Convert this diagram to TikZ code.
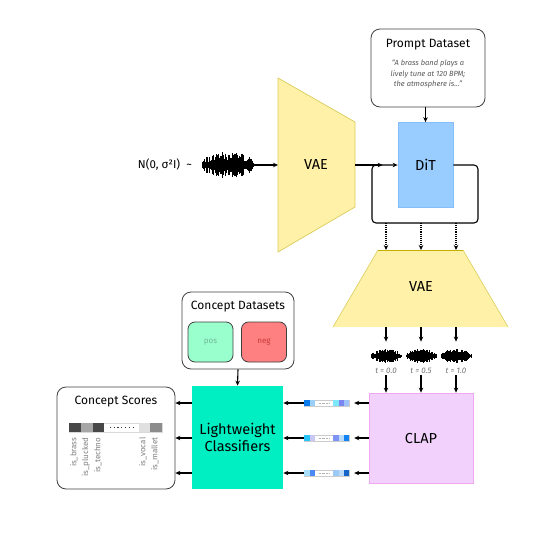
\documentclass[tikz,border=0pt]{standalone}
\usepackage{fontspec}
\setmainfont{Fira Sans}
\usetikzlibrary{positioning,arrows.meta}

\definecolor{vaefill}{HTML}{FFF2A8}
\definecolor{vaeline}{HTML}{D9CC5A}
\definecolor{vaetop}{HTML}{C2B000}
\definecolor{ditfill}{HTML}{99CCFF}
\definecolor{ditline}{HTML}{85BEFA}
\definecolor{clapfill}{HTML}{F2D2FC}
\definecolor{clapline}{HTML}{F0A6F0}
\definecolor{lcfill}{HTML}{00EFC2}
\definecolor{posfill}{HTML}{99FFCC}
\definecolor{negfill}{HTML}{FF8080}
\definecolor{postext}{HTML}{70B896}
\definecolor{negtext}{HTML}{C83838}

% waveform: centre x, centre y, half width, half height
\newcommand{\wavefm}[4]{%
  \foreach \i in {-30,...,30}{%
    \pgfmathsetmacro{\wx}{#1+\i*#3/30}%
    \pgfmathsetmacro{\wh}{#4*(0.35+0.65*rnd)*sqrt(1-(\i/31)*(\i/31))}%
    \draw[line width=0.8pt] (\wx,#2-\wh) -- (\wx,#2+\wh);
  }%
  \draw[line width=1pt] (#1-#3,#2) -- (#1+#3,#2);
}
% embedding cells on a vector node
\newcommand{\vcells}[6]{%
  \foreach \a/\b/\c in {0/6/#2,6/11/#3,29/34.7/#4,34.7/40/#5,40/45/#6}{%
    \definecolor{cellc}{HTML}{\c}%
    \fill[cellc] ([xshift=\a pt]#1.north west) rectangle ([xshift=\b pt]#1.south west);
  }%
  \draw[gray!60,line width=0.4pt,densely dotted] ([xshift=15pt]#1.west) -- ([xshift=25pt]#1.west);
}

\begin{document}
\begin{tikzpicture}
    [x=1pt,y=-1pt,line width=0.8pt,
     arr/.style={line width=1.1pt,-{Stealth[length=5pt,width=4.5pt]}},
     rbox/.style={draw=black!75,rounded corners=9pt,fill=white},
     big/.style={font=\fontsize{14.5}{17.5}\selectfont},
     title/.style={font=\fontsize{12}{14}\selectfont},
     quote/.style={font=\fontsize{7.5}{10.5}\selectfont\itshape,text=black!65,align=center},
     tlab/.style={font=\fontsize{8}{9}\selectfont\itshape,text=black!55,inner sep=1pt},
     isl/.style={font=\fontsize{8}{9}\selectfont,text=black!50,inner sep=0pt},
     wavebox/.style={minimum width=52,minimum height=27,inner sep=0},
     swave/.style={minimum width=30,minimum height=28,inner sep=0},
     vecbox/.style={minimum width=45,minimum height=5.5,inner sep=0,draw=black!20,line width=0.4pt},
     dset/.style={draw=black!75,rounded corners=7pt,minimum width=45,minimum height=40,
                  font=\fontsize{8}{9}\selectfont}]
    \useasboundingbox (0,0) rectangle (541,533);
    \pgfmathsetseed{12}

    % noise and first VAE
    \node[wavebox] (noise) at (228,165) {};
    \wavefm{228}{165}{26}{13}
    \node[font=\fontsize{11.5}{14}\selectfont,left=6pt of noise] (normal) {N(0, σ²I)\ \ \textasciitilde};
    \draw[vaeline,fill=vaefill,line width=0.7pt] (278,78) -- (355,122) -- (355,207) -- (278,252) -- cycle;
    \node[big] (vae1) at (316,165) {VAE};
    \coordinate (vae1in) at (278,165);
    \coordinate (vae1out) at (355,165);
    \draw[arr] (noise) -- (vae1in);

    % prompt and DiT loop
    \node[rbox,minimum width=114,minimum height=78] (prompt) at (428,68) {};
    \node[title] (prompttitle) at (428,45) {Prompt Dataset};
    \node[quote] (prompttext) at (428,74) {“A brass band plays a\\lively tune at 120 BPM;\\the atmosphere is...”};
    \node[big,draw=ditline,fill=ditfill,minimum width=55,minimum height=85] (dit) at (425.5,165) {DiT};
    \draw[arr] (dit.north |- prompt.south) -- (dit.north);
    \coordinate (loopbr) at (478,223);
    \coordinate (loopbl) at (372,223);
    \draw[arr,rounded corners=4pt] (dit.east) -| (loopbr) -- (loopbl) |- (dit.west);
    \draw[arr] (vae1out) -- ([xshift=-15pt]dit.west);

    % second VAE
    \fill[vaefill] (378,250) -- (463,250) -- (508,327) -- (333,327) -- cycle;
    \draw[vaeline,line width=0.6pt] (463,250) -- (508,327);
    \draw[vaeline,line width=0.6pt] (378,250) -- (333,327);
    \draw[vaetop,line width=1pt] (378,250) -- (463,250);
    \node[big] (vae2) at (421,287) {VAE};
    \coordinate (vae2top) at (421,250);
    \coordinate (vae2bot) at (421,327);

    % decoded audio
    \foreach \k/\xx/\tv in {1/386/0.0,2/421/0.5,3/456/1.0}{
        \node[swave] (w\k) at (\xx,356) {};
        \wavefm{\xx}{356}{15}{7}
        \node[tlab] (t\k) at (\xx,371) {t = \tv};
    }
    \node[big,draw=clapline,fill=clapfill,minimum width=104,minimum height=90] (clap) at (421,438) {CLAP};
    \foreach \k in {1,2,3}{
        \draw[arr,densely dotted] (w\k |- loopbl) -- (w\k |- vae2top);
        \draw[arr] (w\k |- vae2bot) -- (w\k.north);
        \draw[arr] (t\k.south) -- (t\k |- clap.north);
    }

    % embeddings
    \foreach \k/\yy in {1/403,2/438,3/473}
        \node[vecbox] (v\k) at (326.5,\yy) {};
    \vcells{v1}{0A7BEA}{9CCFF8}{7FE8F8}{7B86F0}{9EC3FA}
    \vcells{v2}{29C4F8}{C8C8F5}{7E93F5}{B8DBFA}{1184F2}
    \vcells{v3}{A9DEF9}{4B8AF5}{9CCAF7}{BCDBF9}{1566C8}

    % classifiers
    \node[big,fill=lcfill,minimum width=91,minimum height=103,align=center] (lc) at (237.5,437.5) {Lightweight\\Classifiers};
    \node[rbox,minimum width=112,minimum height=77] (cds) at (238,330.5) {};
    \node[title] (cdstitle) at (238,307) {Concept Datasets};
    \node[dset,fill=posfill,text=postext] (pos) at (210.5,342) {pos};
    \node[dset,fill=negfill,text=negtext] (neg) at (264,342) {neg};
    \draw[arr] (cds.south) -- (lc.north);

    % scores
    \node[rbox,minimum width=118,minimum height=102] (scores) at (116,438) {};
    \node[title] (scorestitle) at (116,402) {Concept Scores};
    \node[minimum width=93,minimum height=9,inner sep=0,draw=black!15,line width=0.5pt] (bar) at (115.5,427.5) {};
    \foreach \a/\w/\c in {0/12/72,12/12/35,24/11/72,70/11/12,81/12/45}
        \fill[black!\c] ([xshift=\a pt]bar.north west) rectangle ++(\w,9);
    \draw[line width=1.2pt,dash pattern=on 1.2pt off 2.6pt,black!80] ([xshift=41pt]bar.west) -- ([xshift=64pt]bar.west);
    \foreach \xo/\lab in {5/brass,17/plucked,29/techno,74/vocal,86/mallet}
        \node[isl,rotate=90,anchor=east] (is\lab) at ([xshift=\xo pt,yshift=-5pt]bar.south west) {is\_\lab};

    \foreach \k in {1,2,3}{
        \draw[arr,shorten >=5pt] (clap.west |- v\k) -- (v\k.east);
        \draw[arr] (v\k.west) -- (lc.east |- v\k);
        \draw[arr] (lc.west |- v\k) -- (scores.east |- v\k);
    }
\end{tikzpicture}
\end{document}
